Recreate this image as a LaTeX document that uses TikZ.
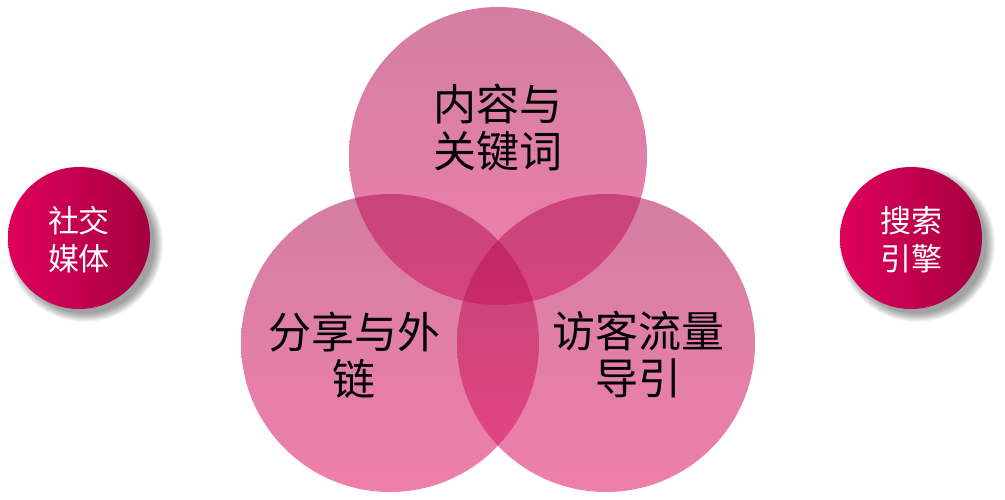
\documentclass[tikz,border=0pt]{standalone}
\usepackage{fontspec}
\newfontfamily\cjk{Noto Sans CJK SC}
\definecolor{vtop}{RGB}{175,18,83}
\definecolor{vbot}{RGB}{226,20,100}
\definecolor{sleft}{RGB}{224,0,92}
\definecolor{sright}{RGB}{165,0,62}
\tikzset{
  venn/.style={circle, minimum size=298pt, inner sep=0pt, top color=vtop, bottom color=vbot, fill opacity=0.54, draw=none},
  badge/.style={circle, minimum size=142pt, inner sep=0pt, left color=sleft, right color=sright, draw=none},
  shadowdisk/.style={circle, fill=black, fill opacity=0.035, draw=none, inner sep=0pt},
  bigtxt/.style={align=center, inner sep=0pt, text=black, font=\cjk\fontsize{43}{47}\selectfont},
  smalltxt/.style={align=center, inner sep=0pt, text=white, font=\cjk\fontsize{31}{38}\selectfont}
}
\begin{document}
\begin{tikzpicture}[x=1pt,y=-1pt]
\useasboundingbox (0,0) rectangle (1005,500);
\fill[white] (0,0) rectangle (1005,500);
% shadows of badges
\foreach \k in {0,...,11}{
  \node[shadowdisk, minimum size={142pt+14pt-\k*1.6pt}] at (85,244) {};
  \node[shadowdisk, minimum size={142pt+14pt-\k*1.6pt}] at (917,244) {};
}
% badges
\node[badge] (sm) at (79,238) {};
\node[badge] (se) at (911,238) {};
\node[smalltxt] (smt) at (79,240) {社交\\媒体};
\node[smalltxt] (set) at (911,240) {搜索\\引擎};
% venn circles
\node[venn] (top) at (498,156) {};
\node[venn] (left) at (390,343) {};
\node[venn] (right) at (606,343) {};
% labels
\node[bigtxt] (t1) at (498,128) {内容与\\关键词};
\node[bigtxt] (t2) at (354,355) {分享与外\\链};
\node[bigtxt] (t3) at (638,354) {访客流量\\导引};
\end{tikzpicture}
\end{document}
